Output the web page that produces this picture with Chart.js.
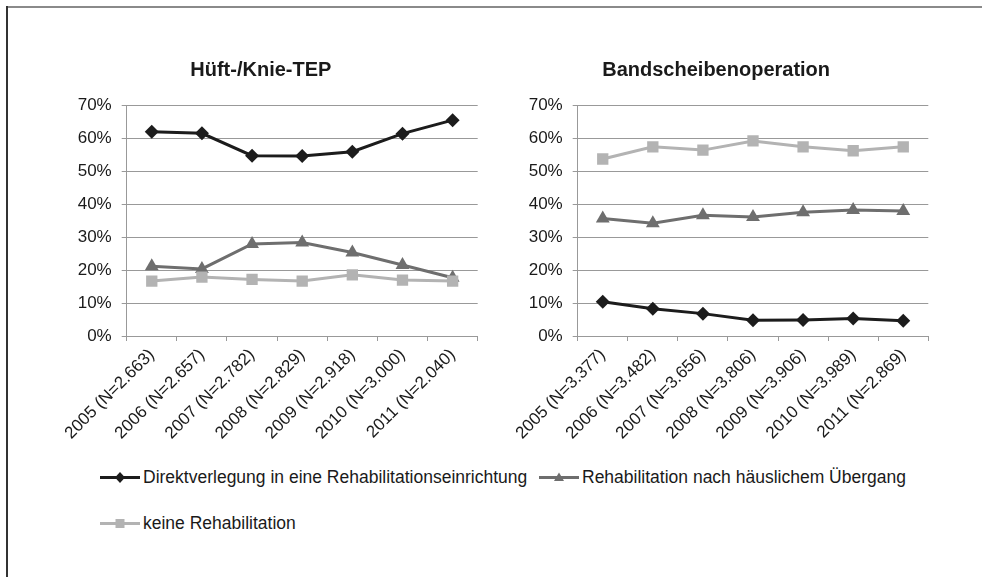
<!DOCTYPE html>
<html>
<head>
<meta charset="utf-8">
<script src="https://cdn.jsdelivr.net/npm/chart.js@4.4.1/dist/chart.umd.min.js"></script>
<style>
  body { margin: 0; background: #fff; font-family: "Liberation Sans", Arial, sans-serif; }
  #page { position: relative; width: 987px; height: 577px; overflow: hidden; }
  .frame-top { position: absolute; left: 6px; top: 6px; width: 976px; height: 2px; background: #8a8a8a; }
  .frame-left { position: absolute; left: 6px; top: 6px; width: 2px; height: 571px; background: #333; }
  canvas { position: absolute; }
  .leg { position: absolute; display: flex; align-items: center; font-size: 17.5px; color: #1a1a1a; white-space: nowrap; }
  .leg svg { margin-right: 3px; }
</style>
</head>
<body>
<div id="page">
  <div class="frame-top"></div>
  <div class="frame-left"></div>
  <canvas id="huefte" width="460" height="410" style="left:44px;top:40px;width:460px;height:410px"></canvas>
  <canvas id="band" width="440" height="410" style="left:504px;top:40px;width:440px;height:410px"></canvas>
  <div id="legend"></div>
</div>
<script>
// Daten
const years = ['2005', '2006', '2007', '2008', '2009', '2010', '2011'];
const nHuefte = ['2.663', '2.657', '2.782', '2.829', '2.918', '3.000', '2.040'];
const nBand = ['3.377', '3.482', '3.656', '3.806', '3.906', '3.989', '2.869'];

const seriesNames = ['Direktverlegung in eine Rehabilitationseinrichtung', 'Rehabilitation nach häuslichem Übergang', 'keine Rehabilitation'];

const huefteDirekt = [62.1, 61.6, 54.8, 54.7, 56.0, 61.5, 65.6];
const huefteRehab = [21.2, 20.4, 28.0, 28.4, 25.4, 21.6, 17.7];
const huefteKeine = [16.7, 17.9, 17.2, 16.7, 18.6, 17.0, 16.7];

const bandDirekt = [10.4, 8.3, 6.8, 4.8, 4.9, 5.3, 4.6];
const bandRehab = [35.7, 34.3, 36.7, 36.2, 37.6, 38.3, 38.0];
const bandKeine = [53.8, 57.5, 56.5, 59.3, 57.5, 56.3, 57.5];

const yTicks = [0, 10, 20, 30, 40, 50, 60, 70];

// Styles
const colors = ['#1c1c1c', '#6e6e6e', '#b3b3b3'];
const markers = ['rectRot', 'triangle', 'rect'];
const radii = [7, 8, 8];
const fontFamily = '"Liberation Sans", Arial, sans-serif';

function makeDatasets(values) {
  return values.map((v, i) => ({
    label: seriesNames[i],
    data: v,
    borderColor: colors[i],
    backgroundColor: colors[i],
    pointBackgroundColor: colors[i],
    pointBorderColor: colors[i],
    pointBorderWidth: 0,
    pointStyle: markers[i],
    pointRadius: radii[i],
    borderWidth: 3,
    tension: 0,
    order: 3 - i
  }));
}

function makeChart(id, title, nList, values, padRight, yWidth) {
  return new Chart(document.getElementById(id), {
    type: 'line',
    data: {
      labels: years.map((y, i) => y + ' (N=' + nList[i] + ')'),
      datasets: makeDatasets(values)
    },
    options: {
      responsive: false,
      animation: false,
      layout: { padding: { left: 0, right: padRight, top: 0, bottom: 0 } },
      plugins: {
        legend: { display: false },
        tooltip: { enabled: false },
        title: {
          display: true,
          text: title,
          color: '#1a1a1a',
          font: { family: fontFamily, size: 20, weight: 'bold', lineHeight: 1.2 },
          padding: { top: 18, bottom: 23.7 }
        }
      },
      scales: {
        x: {
          offset: true,
          grid: { offset: true, drawOnChartArea: false, drawTicks: true, tickLength: 5, color: '#999' },
          border: { color: '#999', width: 1 },
          ticks: {
            color: '#1a1a1a',
            font: { family: fontFamily, size: 17 },
            minRotation: 45,
            maxRotation: 45,
            padding: 4,
            autoSkip: false
          },
          afterFit: (s) => { s.height = 114; }
        },
        y: {
          min: 0,
          max: 70,
          afterBuildTicks: (s) => { s.ticks = yTicks.map(v => ({ value: v })); },
          grid: { color: '#999', lineWidth: 1, drawTicks: true, tickLength: 5 },
          border: { color: '#999', width: 1 },
          ticks: {
            color: '#1a1a1a',
            font: { family: fontFamily, size: 17 },
            padding: 10,
            callback: (v) => v + '%'
          },
          afterFit: (s) => { s.width = yWidth; }
        }
      }
    }
  });
}

makeChart('huefte', 'Hüft-/Knie-TEP', nHuefte, [huefteDirekt, huefteRehab, huefteKeine], 26.3, 82.7);
makeChart('band', 'Bandscheibenoperation', nBand, [bandDirekt, bandRehab, bandKeine], 15.7, 73.7);

// Legende (HTML)
const legendPos = [
  { left: 100, top: 477 },
  { left: 539, top: 477 },
  { left: 100, top: 523 }
];
function markerSvg(i) {
  const c = colors[i];
  let m = '';
  if (markers[i] === 'rectRot') m = '<polygon points="20,1 25,6.5 20,12 15,6.5" fill="' + c + '"/>';
  if (markers[i] === 'triangle') m = '<polygon points="20,1.5 25,10 15,10" fill="' + c + '"/>';
  if (markers[i] === 'rect') m = '<rect x="15.5" y="2" width="9" height="9" fill="' + c + '"/>';
  return '<svg width="40" height="13" viewBox="0 0 40 13"><line x1="0" y1="6.5" x2="40" y2="6.5" stroke="' + c + '" stroke-width="3"/>' + m + '</svg>';
}
const legend = document.getElementById('legend');
seriesNames.forEach((name, i) => {
  const d = document.createElement('div');
  d.className = 'leg';
  d.style.left = legendPos[i].left + 'px';
  d.style.top = (legendPos[i].top - 10) + 'px';
  d.style.height = '20px';
  d.innerHTML = markerSvg(i) + '<span>' + name + '</span>';
  legend.appendChild(d);
});
</script>
</body>
</html>
